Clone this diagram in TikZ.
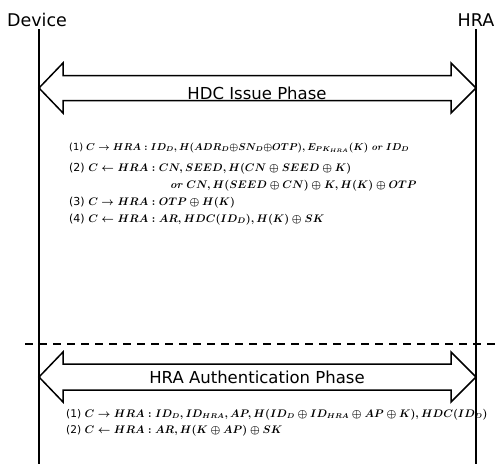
\documentclass[tikz,border=0pt]{standalone}
\usepackage{amsmath}
\usepackage{fontspec}
\setsansfont{DejaVu Sans}
\usepackage{tikz}
\usetikzlibrary{positioning}

\begin{document}
\begin{tikzpicture}[x=1pt,y=-1pt,
		lifeline/.style={line width=1.6pt},
		phasearrow/.style={line width=1.5pt,line join=miter,fill=white},
		party/.style={font=\sffamily\fontsize{17.5}{20}\selectfont,inner sep=0pt},
		phasetext/.style={font=\sffamily\fontsize{16.5}{19}\selectfont,inner sep=0pt},
		msg/.style={anchor=base west,inner sep=0pt,font=\fontsize{11}{13}\selectfont\boldmath}]
	\useasboundingbox (0,0) rectangle (497,464);
	% parties and their lifelines
	\node[party] (dev) at (37,20) {Device};
	\node[party] (hra) at (476,20) {HRA};
	\coordinate (devtop) at (39,29);
	\coordinate (devend) at (39,464);
	\coordinate (hratop) at (476,29);
	\coordinate (hraend) at (476,464);
	\draw[lifeline] (devtop) -- (devend);
	\draw[lifeline] (hratop) -- (hraend);
	% HDC issue phase
	\draw[phasearrow] (39,88) -- (63,63) -- (63,75.5) -- (451,75.5) -- (451,63) -- (476,88)
		-- (451,113) -- (451,100.5) -- (63,100.5) -- (63,113) -- cycle;
	\node[phasetext] (issue) at (257,93) {HDC Issue Phase};
	\node[msg,font=\fontsize{9.8}{12}\selectfont\boldmath] (i1) at (69,150) {\sffamily(1) $C \rightarrow HRA : ID_D, H(ADR_D{\oplus}SN_D{\oplus}OTP), E_{PK_{HRA}}(K)$ \rmfamily\textbf{\textit{or}} $ID_D$};
	\node[msg] (i2) at (69,171) {\sffamily(2) $C \leftarrow HRA : CN, SEED, H(CN \oplus SEED \oplus K)$};
	\node[msg] (i2b) at (170,188) {\textbf{\textit{or}} $CN, H(SEED \oplus CN) \oplus K, H(K) \oplus OTP$};
	\node[msg] (i3) at (69,205) {\sffamily(3) $C \rightarrow HRA : OTP \oplus H(K)$};
	\node[msg] (i4) at (69,222) {\sffamily(4) $C \leftarrow HRA : AR, HDC(ID_D), H(K) \oplus SK$};
	% phase border
	\draw[line width=1.5pt,dash pattern=on 8pt off 6pt] (25,344) -- (497,344);
	% HRA authentication phase
	\draw[phasearrow] (39,377) -- (63,352) -- (63,364) -- (451,364) -- (451,352) -- (476,377)
		-- (451,402) -- (451,390) -- (63,390) -- (63,402) -- cycle;
	\node[phasetext] (auth) at (257,377) {HRA Authentication Phase};
	\node[msg,font=\fontsize{10.6}{13}\selectfont\boldmath] (a1) at (66,417) {\sffamily(1) $C \rightarrow HRA : ID_D, ID_{HRA}, AP, H(ID_D \oplus ID_{HRA} \oplus AP \oplus K), HDC(ID_D)$};
	\node[msg,font=\fontsize{10.6}{13}\selectfont\boldmath] (a2) at (66,433) {\sffamily(2) $C \leftarrow HRA : AR, H(K \oplus AP) \oplus SK$};
\end{tikzpicture}
\end{document}
